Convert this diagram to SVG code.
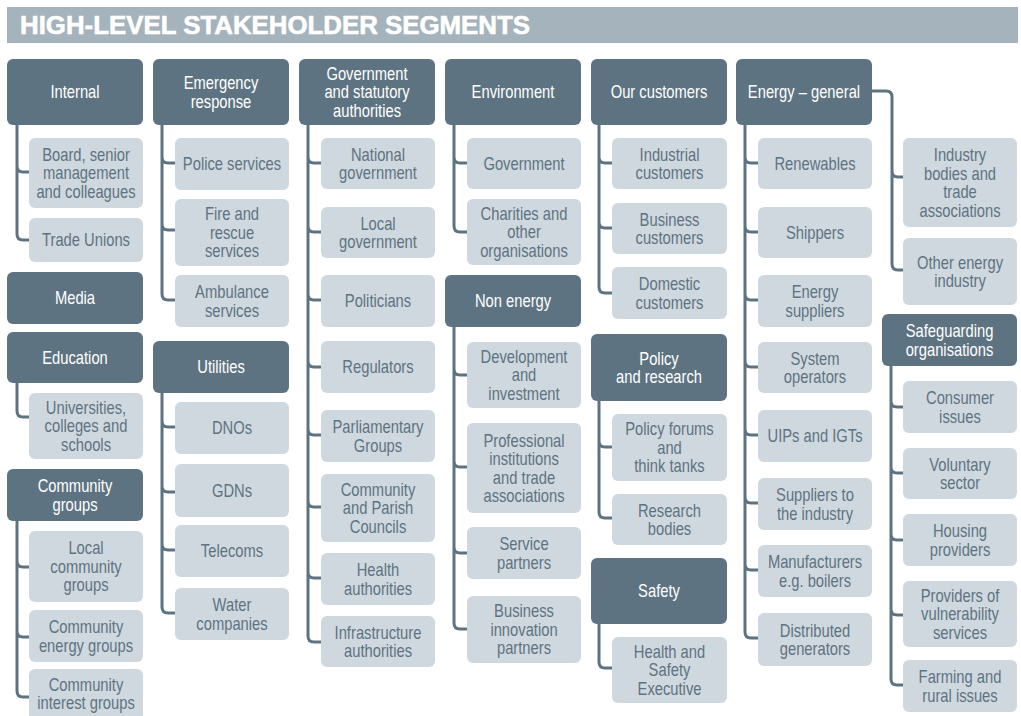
<svg xmlns="http://www.w3.org/2000/svg" width="1021" height="716" viewBox="0 0 1021 716">
<style>
.h{fill:#5e7381}
.b{fill:#cfd8df}
text{font-family:"Liberation Sans",Arial,sans-serif;font-size:18px;text-anchor:middle}
.ht{fill:#ffffff}
.bt{fill:#5e7381}
.c path{fill:none;stroke:#5e7381;stroke-width:3}
.title{font-family:"Liberation Sans",Arial,sans-serif;font-weight:900;font-size:26px;fill:#ffffff;text-anchor:start}
</style>
<rect x="7" y="7" width="1011" height="36" fill="#a5b3bc"/>
<text class="title" x="20" y="34" textLength="510" lengthAdjust="spacingAndGlyphs" stroke="#ffffff" stroke-width="0.6">HIGH-LEVEL STAKEHOLDER SEGMENTS</text>

<g class="c" id="connectors">
<path d="M17 125 V234 Q17 240 23 240 H29 M17 166 Q17 172 23 172 H29"/>
<path d="M17 383 V411 Q17 417 23 417 H29"/>
<path d="M17 521 V691 Q17 697 23 697 H29 M17 561 Q17 567 23 567 H29 M17 631 Q17 637 23 637 H29"/>
<path d="M162 125 V294 Q162 300 168 300 H175 M162 157 Q162 163 168 163 H175 M162 224 Q162 230 168 230 H175"/>
<path d="M162 393 V607 Q162 613 168 613 H175 M162 421 Q162 427 168 427 H175 M162 486 Q162 492 168 492 H175 M162 544 Q162 550 168 550 H175"/>
<path d="M308 125 V636 Q308 642 314 642 H321 M308 157 Q308 163 314 163 H321 M308 226 Q308 232 314 232 H321 M308 294 Q308 300 314 300 H321 M308 361 Q308 367 314 367 H321 M308 429 Q308 435 314 435 H321 M308 501 Q308 507 314 507 H321 M308 572 Q308 578 314 578 H321"/>
<path d="M454 125 V226 Q454 232 460 232 H467 M454 157 Q454 163 460 163 H467"/>
<path d="M454 327 V623 Q454 629 460 629 H467 M454 369 Q454 375 460 375 H467 M454 461 Q454 467 460 467 H467 M454 547 Q454 553 460 553 H467"/>
<path d="M599 125 V287 Q599 293 605 293 H612 M599 157 Q599 163 605 163 H612 M599 222 Q599 228 605 228 H612"/>
<path d="M599 401 V512 Q599 518 605 518 H612 M599 441 Q599 447 605 447 H612"/>
<path d="M599 624 V662 Q599 668 605 668 H612"/>
<path d="M745 125 V632 Q745 638 751 638 H758 M745 157 Q745 163 751 163 H758 M745 226 Q745 232 751 232 H758 M745 294 Q745 300 751 300 H758 M745 361 Q745 367 751 367 H758 M745 429 Q745 435 751 435 H758 M745 497 Q745 503 751 503 H758 M745 564 Q745 570 751 570 H758"/>
<path d="M872 91 H886 Q892 91 892 97 V264 Q892 270 898 270 H903 M892 171 Q892 177 898 177 H903"/>
<path d="M891 366 V679 Q891 685 897 685 H903 M891 401 Q891 407 897 407 H903 M891 467 Q891 473 897 473 H903 M891 534 Q891 540 897 540 H903 M891 609 Q891 615 897 615 H903"/>
</g>

<!-- Column 1 -->
<g id="internal"><rect class="h" x="7" y="59" width="136" height="66" rx="6"/><text class="ht" transform="matrix(.82 0 0 1 75 0)" x="0" y="98.3">Internal</text></g>
<g id="board"><rect class="b" x="29" y="138" width="114" height="70" rx="6"/><text class="bt" transform="matrix(.82 0 0 1 86 0)" x="0" y="160.8"><tspan x="0">Board, senior</tspan><tspan x="0" dy="18.5">management</tspan><tspan x="0" dy="18.5">and colleagues</tspan></text></g>
<g id="trade-unions"><rect class="b" x="29" y="218" width="114" height="44" rx="6"/><text class="bt" transform="matrix(.82 0 0 1 86 0)" x="0" y="246.3">Trade Unions</text></g>
<g id="media"><rect class="h" x="7" y="272" width="136" height="52" rx="6"/><text class="ht" transform="matrix(.82 0 0 1 75 0)" x="0" y="304.3">Media</text></g>
<g id="education"><rect class="h" x="7" y="332" width="136" height="51" rx="6"/><text class="ht" transform="matrix(.82 0 0 1 75 0)" x="0" y="363.8">Education</text></g>
<g id="universities"><rect class="b" x="29" y="393" width="114" height="66" rx="6"/><text class="bt" transform="matrix(.82 0 0 1 86 0)" x="0" y="413.8"><tspan x="0">Universities,</tspan><tspan x="0" dy="18.5">colleges and</tspan><tspan x="0" dy="18.5">schools</tspan></text></g>
<g id="community-groups"><rect class="h" x="7" y="469" width="136" height="52" rx="6"/><text class="ht" transform="matrix(.82 0 0 1 75 0)" x="0" y="492.05"><tspan x="0">Community</tspan><tspan x="0" dy="18.5">groups</tspan></text></g>
<g id="local-community"><rect class="b" x="29" y="531" width="114" height="71" rx="6"/><text class="bt" transform="matrix(.82 0 0 1 86 0)" x="0" y="554.3"><tspan x="0">Local</tspan><tspan x="0" dy="18.5">community</tspan><tspan x="0" dy="18.5">groups</tspan></text></g>
<g id="community-energy"><rect class="b" x="29" y="610" width="114" height="52" rx="6"/><text class="bt" transform="matrix(.82 0 0 1 86 0)" x="0" y="633.05"><tspan x="0">Community</tspan><tspan x="0" dy="18.5">energy groups</tspan></text></g>
<g id="community-interest"><rect class="b" x="29" y="669" width="114" height="52" rx="6"/><text class="bt" transform="matrix(.82 0 0 1 86 0)" x="0" y="691.5"><tspan x="0">Community</tspan><tspan x="0" dy="18">interest groups</tspan></text></g>

<!-- Column 2 -->
<g id="emergency"><rect class="h" x="153" y="59" width="136" height="66" rx="6"/><text class="ht" transform="matrix(.82 0 0 1 221 0)" x="0" y="89.05"><tspan x="0">Emergency</tspan><tspan x="0" dy="18.5">response</tspan></text></g>
<g id="police"><rect class="b" x="175" y="138" width="114" height="52" rx="6"/><text class="bt" transform="matrix(.82 0 0 1 232 0)" x="0" y="170.3">Police services</text></g>
<g id="fire"><rect class="b" x="175" y="199" width="114" height="67" rx="6"/><text class="bt" transform="matrix(.82 0 0 1 232 0)" x="0" y="220.3"><tspan x="0">Fire and</tspan><tspan x="0" dy="18.5">rescue</tspan><tspan x="0" dy="18.5">services</tspan></text></g>
<g id="ambulance"><rect class="b" x="175" y="275" width="114" height="52" rx="6"/><text class="bt" transform="matrix(.82 0 0 1 232 0)" x="0" y="298.05"><tspan x="0">Ambulance</tspan><tspan x="0" dy="18.5">services</tspan></text></g>
<g id="utilities"><rect class="h" x="153" y="341" width="136" height="52" rx="6"/><text class="ht" transform="matrix(.82 0 0 1 221 0)" x="0" y="373.3">Utilities</text></g>
<g id="dnos"><rect class="b" x="175" y="402" width="114" height="52" rx="6"/><text class="bt" transform="matrix(.82 0 0 1 232 0)" x="0" y="434.3">DNOs</text></g>
<g id="gdns"><rect class="b" x="175" y="464" width="114" height="53" rx="6"/><text class="bt" transform="matrix(.82 0 0 1 232 0)" x="0" y="496.8">GDNs</text></g>
<g id="telecoms"><rect class="b" x="175" y="525" width="114" height="52" rx="6"/><text class="bt" transform="matrix(.82 0 0 1 232 0)" x="0" y="557.3">Telecoms</text></g>
<g id="water"><rect class="b" x="175" y="588" width="114" height="52" rx="6"/><text class="bt" transform="matrix(.82 0 0 1 232 0)" x="0" y="611.05"><tspan x="0">Water</tspan><tspan x="0" dy="18.5">companies</tspan></text></g>

<!-- Column 3 -->
<g id="government"><rect class="h" x="299" y="59" width="136" height="66" rx="6"/><text class="ht" transform="matrix(.82 0 0 1 367 0)" x="0" y="79.8"><tspan x="0">Government</tspan><tspan x="0" dy="18.5">and statutory</tspan><tspan x="0" dy="18.5">authorities</tspan></text></g>
<g id="national-gov"><rect class="b" x="321" y="138" width="114" height="51" rx="6"/><text class="bt" transform="matrix(.82 0 0 1 378 0)" x="0" y="160.55"><tspan x="0">National</tspan><tspan x="0" dy="18.5">government</tspan></text></g>
<g id="local-gov"><rect class="b" x="321" y="207" width="114" height="51" rx="6"/><text class="bt" transform="matrix(.82 0 0 1 378 0)" x="0" y="229.55"><tspan x="0">Local</tspan><tspan x="0" dy="18.5">government</tspan></text></g>
<g id="politicians"><rect class="b" x="321" y="275" width="114" height="52" rx="6"/><text class="bt" transform="matrix(.82 0 0 1 378 0)" x="0" y="307.3">Politicians</text></g>
<g id="regulators"><rect class="b" x="321" y="341" width="114" height="52" rx="6"/><text class="bt" transform="matrix(.82 0 0 1 378 0)" x="0" y="373.3">Regulators</text></g>
<g id="parliamentary"><rect class="b" x="321" y="410" width="114" height="52" rx="6"/><text class="bt" transform="matrix(.82 0 0 1 378 0)" x="0" y="433.05"><tspan x="0">Parliamentary</tspan><tspan x="0" dy="18.5">Groups</tspan></text></g>
<g id="parish"><rect class="b" x="321" y="474" width="114" height="68" rx="6"/><text class="bt" transform="matrix(.82 0 0 1 378 0)" x="0" y="495.8"><tspan x="0">Community</tspan><tspan x="0" dy="18.5">and Parish</tspan><tspan x="0" dy="18.5">Councils</tspan></text></g>
<g id="health-auth"><rect class="b" x="321" y="553" width="114" height="52" rx="6"/><text class="bt" transform="matrix(.82 0 0 1 378 0)" x="0" y="576.05"><tspan x="0">Health</tspan><tspan x="0" dy="18.5">authorities</tspan></text></g>
<g id="infrastructure"><rect class="b" x="321" y="616" width="114" height="51" rx="6"/><text class="bt" transform="matrix(.82 0 0 1 378 0)" x="0" y="638.55"><tspan x="0">Infrastructure</tspan><tspan x="0" dy="18.5">authorities</tspan></text></g>

<!-- Column 4 -->
<g id="environment"><rect class="h" x="445" y="59" width="136" height="66" rx="6"/><text class="ht" transform="matrix(.82 0 0 1 513 0)" x="0" y="98.3">Environment</text></g>
<g id="env-government"><rect class="b" x="467" y="138" width="114" height="51" rx="6"/><text class="bt" transform="matrix(.82 0 0 1 524 0)" x="0" y="169.8">Government</text></g>
<g id="charities"><rect class="b" x="467" y="199" width="114" height="66" rx="6"/><text class="bt" transform="matrix(.82 0 0 1 524 0)" x="0" y="219.8"><tspan x="0">Charities and</tspan><tspan x="0" dy="18.5">other</tspan><tspan x="0" dy="18.5">organisations</tspan></text></g>
<g id="non-energy"><rect class="h" x="445" y="275" width="136" height="52" rx="6"/><text class="ht" transform="matrix(.82 0 0 1 513 0)" x="0" y="307.3">Non energy</text></g>
<g id="development"><rect class="b" x="467" y="342" width="114" height="66" rx="6"/><text class="bt" transform="matrix(.82 0 0 1 524 0)" x="0" y="362.8"><tspan x="0">Development</tspan><tspan x="0" dy="18.5">and</tspan><tspan x="0" dy="18.5">investment</tspan></text></g>
<g id="professional"><rect class="b" x="467" y="423" width="114" height="90" rx="6"/><text class="bt" transform="matrix(.82 0 0 1 524 0)" x="0" y="446.55"><tspan x="0">Professional</tspan><tspan x="0" dy="18.5">institutions</tspan><tspan x="0" dy="18.5">and trade</tspan><tspan x="0" dy="18.5">associations</tspan></text></g>
<g id="service-partners"><rect class="b" x="467" y="527" width="114" height="52" rx="6"/><text class="bt" transform="matrix(.82 0 0 1 524 0)" x="0" y="550.05"><tspan x="0">Service</tspan><tspan x="0" dy="18.5">partners</tspan></text></g>
<g id="business-innovation"><rect class="b" x="467" y="596" width="114" height="67" rx="6"/><text class="bt" transform="matrix(.82 0 0 1 524 0)" x="0" y="617.3"><tspan x="0">Business</tspan><tspan x="0" dy="18.5">innovation</tspan><tspan x="0" dy="18.5">partners</tspan></text></g>

<!-- Column 5 -->
<g id="our-customers"><rect class="h" x="591" y="59" width="136" height="66" rx="6"/><text class="ht" transform="matrix(.82 0 0 1 659 0)" x="0" y="98.3">Our customers</text></g>
<g id="industrial"><rect class="b" x="612" y="138" width="115" height="51" rx="6"/><text class="bt" transform="matrix(.82 0 0 1 669.5 0)" x="0" y="160.55"><tspan x="0">Industrial</tspan><tspan x="0" dy="18.5">customers</tspan></text></g>
<g id="business-customers"><rect class="b" x="612" y="203" width="115" height="51" rx="6"/><text class="bt" transform="matrix(.82 0 0 1 669.5 0)" x="0" y="225.55"><tspan x="0">Business</tspan><tspan x="0" dy="18.5">customers</tspan></text></g>
<g id="domestic"><rect class="b" x="612" y="267" width="115" height="52" rx="6"/><text class="bt" transform="matrix(.82 0 0 1 669.5 0)" x="0" y="290.05"><tspan x="0">Domestic</tspan><tspan x="0" dy="18.5">customers</tspan></text></g>
<g id="policy-research"><rect class="h" x="591" y="334" width="136" height="67" rx="6"/><text class="ht" transform="matrix(.82 0 0 1 659 0)" x="0" y="364.55"><tspan x="0">Policy</tspan><tspan x="0" dy="18.5">and research</tspan></text></g>
<g id="policy-forums"><rect class="b" x="612" y="414" width="115" height="67" rx="6"/><text class="bt" transform="matrix(.82 0 0 1 669.5 0)" x="0" y="435.3"><tspan x="0">Policy forums</tspan><tspan x="0" dy="18.5">and</tspan><tspan x="0" dy="18.5">think tanks</tspan></text></g>
<g id="research-bodies"><rect class="b" x="612" y="494" width="115" height="51" rx="6"/><text class="bt" transform="matrix(.82 0 0 1 669.5 0)" x="0" y="516.55"><tspan x="0">Research</tspan><tspan x="0" dy="18.5">bodies</tspan></text></g>
<g id="safety"><rect class="h" x="591" y="558" width="136" height="66" rx="6"/><text class="ht" transform="matrix(.82 0 0 1 659 0)" x="0" y="597.3">Safety</text></g>
<g id="hse"><rect class="b" x="612" y="637" width="115" height="66" rx="6"/><text class="bt" transform="matrix(.82 0 0 1 669.5 0)" x="0" y="657.8"><tspan x="0">Health and</tspan><tspan x="0" dy="18.5">Safety</tspan><tspan x="0" dy="18.5">Executive</tspan></text></g>

<!-- Column 6 -->
<g id="energy-general"><rect class="h" x="736" y="59" width="136" height="66" rx="6"/><text class="ht" transform="matrix(.82 0 0 1 804 0)" x="0" y="98.3">Energy – general</text></g>
<g id="renewables"><rect class="b" x="758" y="138" width="114" height="51" rx="6"/><text class="bt" transform="matrix(.82 0 0 1 815 0)" x="0" y="169.8">Renewables</text></g>
<g id="shippers"><rect class="b" x="758" y="207" width="114" height="51" rx="6"/><text class="bt" transform="matrix(.82 0 0 1 815 0)" x="0" y="238.8">Shippers</text></g>
<g id="energy-suppliers"><rect class="b" x="758" y="275" width="114" height="52" rx="6"/><text class="bt" transform="matrix(.82 0 0 1 815 0)" x="0" y="298.05"><tspan x="0">Energy</tspan><tspan x="0" dy="18.5">suppliers</tspan></text></g>
<g id="system-operators"><rect class="b" x="758" y="342" width="114" height="51" rx="6"/><text class="bt" transform="matrix(.82 0 0 1 815 0)" x="0" y="364.55"><tspan x="0">System</tspan><tspan x="0" dy="18.5">operators</tspan></text></g>
<g id="uips"><rect class="b" x="758" y="410" width="114" height="52" rx="6"/><text class="bt" transform="matrix(.82 0 0 1 815 0)" x="0" y="442.3">UIPs and IGTs</text></g>
<g id="suppliers-industry"><rect class="b" x="758" y="478" width="114" height="52" rx="6"/><text class="bt" transform="matrix(.82 0 0 1 815 0)" x="0" y="501.05"><tspan x="0">Suppliers to</tspan><tspan x="0" dy="18.5">the industry</tspan></text></g>
<g id="manufacturers"><rect class="b" x="758" y="545" width="114" height="52" rx="6"/><text class="bt" transform="matrix(.82 0 0 1 815 0)" x="0" y="568.05"><tspan x="0">Manufacturers</tspan><tspan x="0" dy="18.5">e.g. boilers</tspan></text></g>
<g id="distributed"><rect class="b" x="758" y="613" width="114" height="53" rx="6"/><text class="bt" transform="matrix(.82 0 0 1 815 0)" x="0" y="636.55"><tspan x="0">Distributed</tspan><tspan x="0" dy="18.5">generators</tspan></text></g>

<!-- Column 7 -->
<g id="industry-bodies"><rect class="b" x="903" y="138" width="114" height="89" rx="6"/><text class="bt" transform="matrix(.82 0 0 1 960 0)" x="0" y="161.05"><tspan x="0">Industry</tspan><tspan x="0" dy="18.5">bodies and</tspan><tspan x="0" dy="18.5">trade</tspan><tspan x="0" dy="18.5">associations</tspan></text></g>
<g id="other-energy"><rect class="b" x="903" y="238" width="114" height="67" rx="6"/><text class="bt" transform="matrix(.82 0 0 1 960 0)" x="0" y="268.55"><tspan x="0">Other energy</tspan><tspan x="0" dy="18.5">industry</tspan></text></g>
<g id="safeguarding"><rect class="h" x="882" y="314" width="135" height="52" rx="6"/><text class="ht" transform="matrix(.82 0 0 1 949.5 0)" x="0" y="337.05"><tspan x="0">Safeguarding</tspan><tspan x="0" dy="18.5">organisations</tspan></text></g>
<g id="consumer"><rect class="b" x="903" y="381" width="114" height="52" rx="6"/><text class="bt" transform="matrix(.82 0 0 1 960 0)" x="0" y="404.05"><tspan x="0">Consumer</tspan><tspan x="0" dy="18.5">issues</tspan></text></g>
<g id="voluntary"><rect class="b" x="903" y="448" width="114" height="51" rx="6"/><text class="bt" transform="matrix(.82 0 0 1 960 0)" x="0" y="470.55"><tspan x="0">Voluntary</tspan><tspan x="0" dy="18.5">sector</tspan></text></g>
<g id="housing"><rect class="b" x="903" y="514" width="114" height="52" rx="6"/><text class="bt" transform="matrix(.82 0 0 1 960 0)" x="0" y="537.05"><tspan x="0">Housing</tspan><tspan x="0" dy="18.5">providers</tspan></text></g>
<g id="vulnerability"><rect class="b" x="903" y="581" width="114" height="66" rx="6"/><text class="bt" transform="matrix(.82 0 0 1 960 0)" x="0" y="601.8"><tspan x="0">Providers of</tspan><tspan x="0" dy="18.5">vulnerability</tspan><tspan x="0" dy="18.5">services</tspan></text></g>
<g id="farming"><rect class="b" x="903" y="660" width="114" height="52" rx="6"/><text class="bt" transform="matrix(.82 0 0 1 960 0)" x="0" y="683.05"><tspan x="0">Farming and</tspan><tspan x="0" dy="18.5">rural issues</tspan></text></g>
</svg>
